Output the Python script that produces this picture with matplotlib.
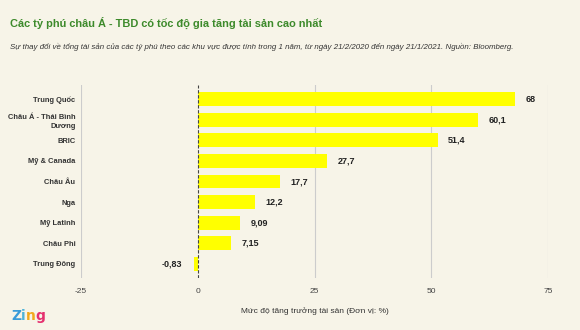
import matplotlib.pyplot as plt

regions = ['Trung Quốc', 'Châu Á - Thái Bình\nDương', 'BRIC', 'Mỹ & Canada', 'Châu Âu',
           'Nga', 'Mỹ Latinh', 'Châu Phi', 'Trung Đông']
growth = [68, 60.1, 51.4, 27.7, 17.7, 12.2, 9.09, 7.15, -0.83]
value_labels = ['68', '60,1', '51,4', '27,7', '17,7', '12,2', '9,09', '7,15', '-0,83']
ticks = [-25, 0, 25, 50, 75]

plt.rcParams['font.family'] = ['Liberation Sans', 'DejaVu Sans']
bg = '#f7f4e8'
fig = plt.figure(figsize=(5.8, 3.3), dpi=100, facecolor=bg)
ax = fig.add_axes([81 / 580, 52 / 330, 467 / 580, 193 / 330])
ax.set_facecolor(bg)

y = list(range(len(regions)))
ax.barh(y, growth, height=0.68, color='#ffff00', zorder=2)
for i in range(len(growth)):
    if growth[i] >= 0:
        ax.text(growth[i] + 2.2, y[i], value_labels[i], va='center', ha='left',
                fontsize=6.5, fontweight='bold', color='#222222')
    else:
        ax.text(growth[i] - 2.5, y[i], value_labels[i], va='center', ha='right',
                fontsize=6.5, fontweight='bold', color='#222222')

ax.set_xlim(-25, 75)
ax.set_ylim(len(regions) - 0.3, -0.7)
ax.set_xticks(ticks)
ax.set_xticklabels([str(t) for t in ticks], fontsize=6, color='#444444')
ax.set_yticks(y)
ax.set_yticklabels(regions, fontsize=5.4, fontweight='bold', color='#333333', linespacing=1.35)
ax.tick_params(axis='x', length=0, pad=7)
ax.tick_params(axis='y', length=0, pad=4)
for t in ticks:
    if t == 0:
        ax.axvline(t, color='#444444', lw=0.8, ls=(0, (3, 1.5)), zorder=3)
    else:
        ax.axvline(t, color='#cccccc', lw=0.8, zorder=1)
for s in ax.spines.values():
    s.set_visible(False)
ax.set_xlabel('Mức độ tăng trưởng tài sản (Đơn vị: %)', fontsize=6, color='#333333', labelpad=9)

fig.text(0.018, 0.92, 'Các tỷ phú châu Á - TBD có tốc độ gia tăng tài sản cao nhất',
         fontsize=7.9, fontweight='bold', color='#3d8a2b')
fig.text(0.018, 0.852, 'Sự thay đổi về tổng tài sản của các tỷ phú theo các khu vực được tính trong 1 năm, '
         'từ ngày 21/2/2020 đến ngày 21/1/2021. Nguồn: Bloomberg.',
         fontsize=5.7, style='italic', color='#333333')

zing = [('Z', '#3a9bd9'), ('i', '#4fb3d9'), ('n', '#f2a81d'), ('g', '#e5306f')]
xpos = 0.02
for ch, col in zing:
    fig.text(xpos, 0.03, ch, fontsize=10, fontweight='bold', color=col,
             family=['DejaVu Sans'])
    xpos += 0.016 if ch != 'i' else 0.009

fig.savefig('out.png', dpi=100, facecolor=bg)
